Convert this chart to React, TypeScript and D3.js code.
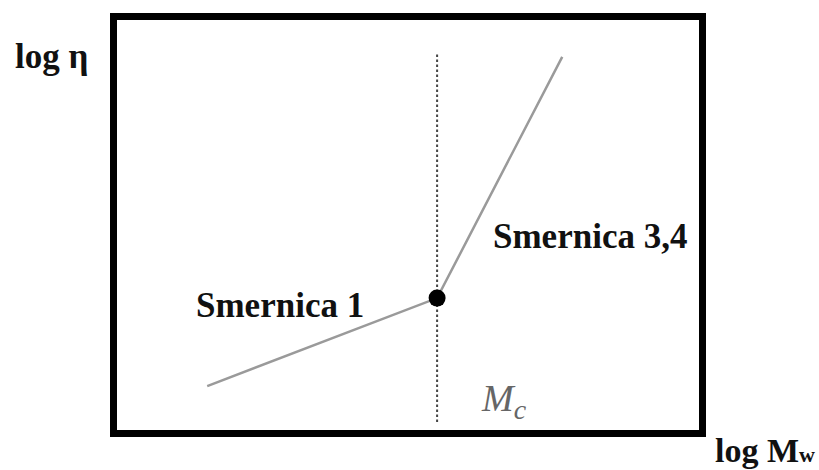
import React from "react";
import * as d3 from "d3";

// Schematic viscosity vs molecular weight (log-log), two power-law regimes
const logM = [1.55, 5.5, 7.65];
const logEta = [1.05, 3.2, 9.1];
const criticalLogM = 5.5;
const criticalSpan = [0.17, 9.22];
const slopeLabels = ["Smernica 1", "Smernica 3,4"];
const yTitle = "log η";
const xTitle = ["log M", "w"];
const criticalLabel = ["M", "c"];

const W = 819;
const H = 470;
const frame = { x: 113.5, y: 16.5, w: 589, h: 417, stroke: 7 };

export default function App() {
  const x = d3.scaleLinear().domain([0, 10]).range([117, 699]);
  const y = d3.scaleLinear().domain([0, 10]).range([429, 20]);

  const pts: [number, number][] = logM.map((m, i) => [m, logEta[i]]);
  const line = d3
    .line<[number, number]>()
    .x((d) => x(d[0]))
    .y((d) => y(d[1]));

  const serif = "'Liberation Serif', 'Times New Roman', serif";
  const knee = pts[1];

  return (
    <svg
      width={W}
      height={H}
      style={{ position: "absolute", left: 0, top: 0, background: "#fff" }}
    >
      <rect x={0} y={0} width={W} height={H} fill="#fff" />
      <rect
        x={frame.x}
        y={frame.y}
        width={frame.w}
        height={frame.h}
        fill="#fff"
        stroke="#000"
        strokeWidth={frame.stroke}
      />
      <line
        x1={x(criticalLogM)}
        x2={x(criticalLogM)}
        y1={y(criticalSpan[0])}
        y2={y(criticalSpan[1])}
        stroke="#444"
        strokeWidth={2}
        strokeDasharray="2.5 2.5"
      />
      <path
        d={line(pts) ?? ""}
        fill="none"
        stroke="#9a9a9a"
        strokeWidth={2.5}
      />
      <circle cx={x(knee[0])} cy={y(knee[1])} r={8.5} fill="#000" />

      <text x={15} y={68} fontFamily={serif} fontWeight="bold" fontSize={35} fill="#111">
        {yTitle}
      </text>
      <text x={715} y={462} fontFamily={serif} fontWeight="bold" fontSize={34} fill="#111">
        {xTitle[0]}
        <tspan fontSize={22}>{xTitle[1]}</tspan>
      </text>
      <text x={196} y={317} fontFamily={serif} fontWeight="bold" fontSize={35} fill="#111">
        {slopeLabels[0]}
      </text>
      <text x={493} y={248} fontFamily={serif} fontWeight="bold" fontSize={35} fill="#111">
        {slopeLabels[1]}
      </text>
      <text x={482} y={411} fontFamily={serif} fontStyle="italic" fontSize={38} fill="#666">
        {criticalLabel[0]}
        <tspan fontSize={28} dy={8}>
          {criticalLabel[1]}
        </tspan>
      </text>
    </svg>
  );
}
